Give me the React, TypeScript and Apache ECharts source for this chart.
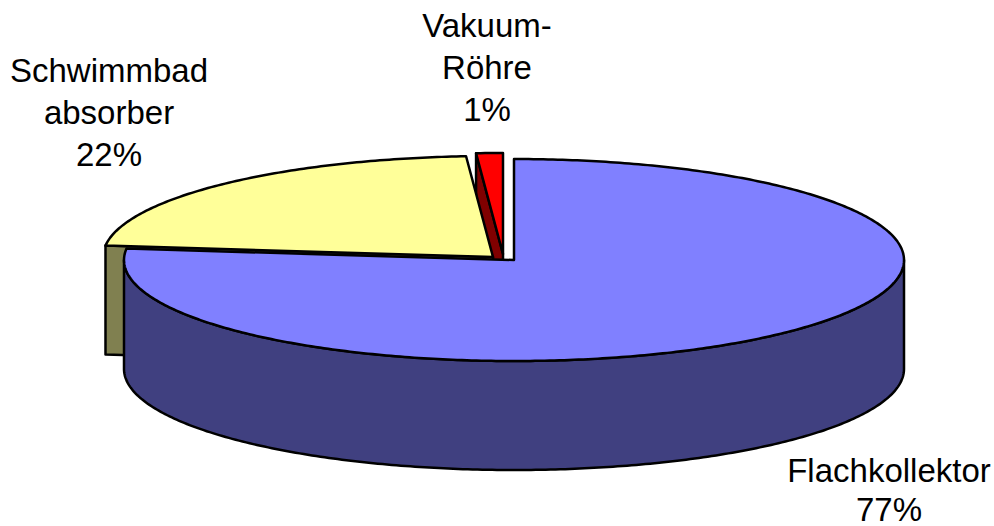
import React, { useEffect, useRef } from "react";
import * as echarts from "echarts";

const categories = [["Flachkollektor"], ["Schwimmbad", "absorber"], ["Vakuum-", "Röhre"]];
const shares = [76.8, 22.1, 1.1];

const topColors = ["#8080FF", "#FFFF99", "#FF0000"];
const outerWallColors = ["#404080", "#808050", "#800000"];
const cutWallColors = ["#404080", "#808050", "#800000"];

// Exploded-pie layout, in pixels of the 994x526 page.
const RX = 390;
const RY = 101;
const DEPTH = 109;
const centers = [
  [514, 260],
  [493, 257],
  [503, 254],
];
// Centre of each label's first line, and the distance between its lines.
const labelAnchors = [
  [889, 470],
  [109, 70],
  [487, 25],
];
const lineSteps = [39, 42, 42];
const layers = [
  { wall: 5, top: 6 },
  { wall: 3, top: 4 },
  { wall: 1, top: 2 },
];

const total = shares.reduce((a, b) => a + b, 0);

function renderItem(params: any, api: any) {
  const i = params.dataIndex;
  const value = api.value(0);
  let before = 0;
  for (let k = 0; k < i; k++) before += shares[k];
  const a0 = (before / total) * Math.PI * 2;
  const a1 = ((before + value) / total) * Math.PI * 2;
  const [cx, cy] = centers[i];
  const at = (a: number, dy = 0) => [cx + RX * Math.sin(a), cy - RY * Math.cos(a) + dy];
  const stroke = { stroke: "#000", lineWidth: 2.5, lineJoin: "round" };

  const arc: number[][] = [];
  const steps = Math.max(4, Math.round((a1 - a0) * 80));
  for (let s = 0; s <= steps; s++) arc.push(at(a0 + ((a1 - a0) * s) / steps));

  const children: any[] = [];

  // Cut face on the slice's leading side, for the two exploded back slices.
  if (i > 0) {
    children.push({
      type: "polygon",
      z2: layers[i].wall,
      shape: {
        points: [at(a0), at(a0, DEPTH), [cx, cy + DEPTH], [cx, cy]],
      },
      style: { fill: cutWallColors[i], ...stroke },
    });
  }

  // Front-facing rim of the slice.
  const lo = Math.max(a0, Math.PI / 2);
  const hi = Math.min(a1, (Math.PI * 3) / 2);
  if (hi > lo) {
    const upper: number[][] = [];
    const lower: number[][] = [];
    const n = Math.round((hi - lo) * 80);
    for (let s = 0; s <= n; s++) {
      const a = lo + ((hi - lo) * s) / n;
      upper.push(at(a));
      lower.unshift(at(a, DEPTH));
    }
    children.push({
      type: "polygon",
      z2: layers[i].wall,
      shape: { points: [...upper, ...lower] },
      style: { fill: outerWallColors[i], ...stroke },
    });
  }

  // Top face.
  children.push({
    type: "polygon",
    z2: layers[i].top,
    shape: { points: [[cx, cy], ...arc] },
    style: { fill: topColors[i], ...stroke },
  });

  // Label, one element per line, with the share rounded to a whole percent.
  [...categories[i], `${Math.round(value)}%`].forEach((line, k) => {
    children.push({
      type: "text",
      z2: 10,
      style: {
        x: labelAnchors[i][0],
        y: labelAnchors[i][1] + k * lineSteps[i],
        text: line,
        fill: "#000",
        font: '33px "Liberation Sans", Arial, sans-serif',
        lineHeight: 24,
        align: "center",
        verticalAlign: "middle",
      },
    });
  });

  return { type: "group", children };
}

export default function App() {
  const ref = useRef<HTMLDivElement>(null);
  useEffect(() => {
    const chart = echarts.init(ref.current!, null, { renderer: "svg" });
    chart.setOption({
      animation: false,
      backgroundColor: "#fff",
      series: [
        {
          type: "custom",
          coordinateSystem: "none",
          silent: true,
          clip: false,
          data: shares.map((v) => [v]),
          encode: { value: 0 },
          renderItem,
        },
      ],
    });
    return () => chart.dispose();
  }, []);
  return (
    <div
      ref={ref}
      style={{ position: "absolute", left: 0, top: 0, width: 994, height: 526 }}
    />
  );
}
